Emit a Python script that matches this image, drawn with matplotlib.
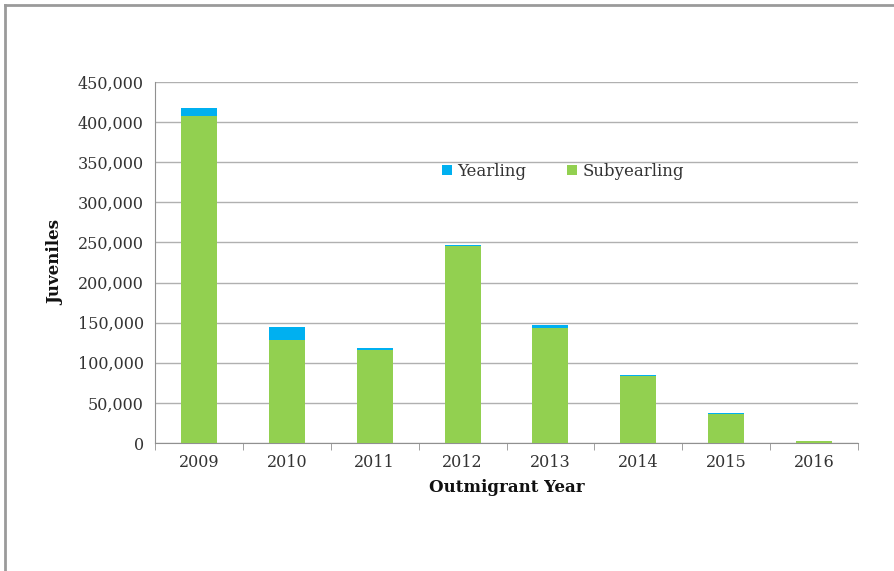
import matplotlib
matplotlib.use("Agg")
import matplotlib.pyplot as plt
from matplotlib.lines import Line2D
import numpy as np

years = ["2009", "2010", "2011", "2012", "2013", "2014", "2015", "2016"]
subyearling = [408000, 128500, 116500, 245000, 143000, 83300, 36300, 2600]
yearling = [10000, 15700, 1500, 2200, 3500, 1500, 1500, 200]
yticks = [0, 50000, 100000, 150000, 200000, 250000, 300000, 350000, 400000, 450000]

blue = "#00B0F0"
green = "#92D050"
txt = "#333333"
plt.rcParams['font.family'] = ['DejaVu Serif']

fig = plt.figure(figsize=(8.94, 5.71), dpi=100)
# outer frame (left and top edges visible)
fig.lines.append(Line2D([5/894, 5/894], [0, 1-5/571], transform=fig.transFigure,
                        color="#9a9a9a", linewidth=2))
fig.lines.append(Line2D([5/894, 1], [1-5/571, 1-5/571], transform=fig.transFigure,
                        color="#9a9a9a", linewidth=2))
ax = fig.add_axes([155/894, 1-443/571, (858-155)/894, (443-82)/571])
x = np.arange(len(years))
ax.bar(x, subyearling, width=0.41, color=green, label="Subyearling", zorder=3)
ax.bar(x, yearling, width=0.41, bottom=subyearling, color=blue, label="Yearling", zorder=3)
ax.set_xlim(-0.5, len(years)-0.5)
ax.set_ylim(0, 450000)
ax.set_yticks(yticks)
ax.set_yticklabels([f"{v:,}" for v in yticks], fontsize=11.5, color=txt)
ax.yaxis.grid(True, color="#b0b0b0", linewidth=1, zorder=0)
ax.tick_params(axis='y', length=0, pad=8)
ax.set_xticks(x)
ax.set_xticklabels(years, fontsize=11.5, color=txt)
ax.tick_params(axis='x', length=0, pad=8)
ax.set_xticks(np.arange(-0.5, len(years)), minor=True)
ax.tick_params(axis='x', which='minor', length=5, color="#909090")
for s in ["top", "right"]:
    ax.spines[s].set_visible(False)
ax.spines["bottom"].set_color("#909090")
ax.spines["left"].set_color("#909090")
ax.set_ylabel("Juveniles", fontsize=12, fontweight="bold", labelpad=10, color="#111111")
ax.set_xlabel("Outmigrant Year", fontsize=12, fontweight="bold", labelpad=6, color="#111111")
h, l = ax.get_legend_handles_labels()
leg = ax.legend([h[1], h[0]], [l[1], l[0]], loc="center", bbox_to_anchor=(0.58, 0.753), ncol=2,
                frameon=False, fontsize=12, handlelength=0.6, handleheight=0.6, columnspacing=2.5,
                handletextpad=0.3)
for t in leg.get_texts():
    t.set_color(txt)
fig.savefig("out.png", dpi=100)
